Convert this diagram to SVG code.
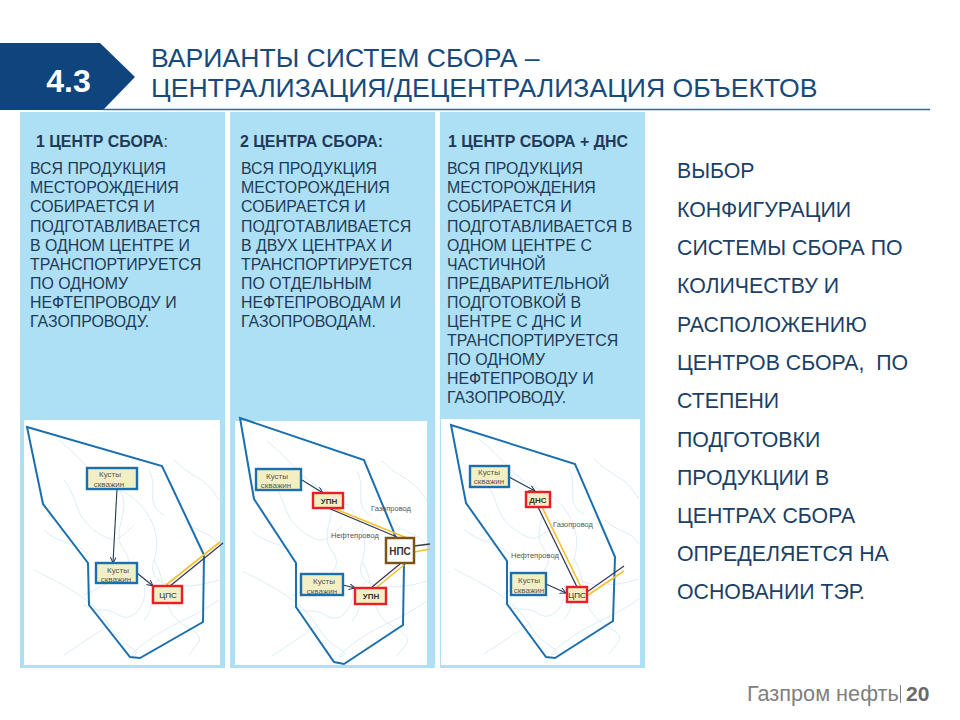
<svg xmlns="http://www.w3.org/2000/svg" width="960" height="720" viewBox="0 0 960 720">
<style>
text{font-family:"Liberation Sans",Arial,sans-serif}
.title{font-size:26.6px;fill:#174a7c}
.head{font-size:15.9px;font-weight:bold;fill:#1f3a57}
.body{font-size:15.9px;fill:#1f3a57}
.side{font-size:21.3px;fill:#1c3f66}
.panel{fill:#aee0f5}
.map{fill:#fff}
.field{fill:none;stroke:#1b6fae;stroke-width:2}
.river{fill:none;stroke:#dcEEf5;stroke-width:1}
.ks{fill:#f3efc4;stroke:#1b6fae;stroke-width:2.4}
.pr{fill:#f3efc4;stroke:#ee1c25;stroke-width:2.4}
.nps{fill:#fff;stroke:#7b5418;stroke-width:2.5}
.nt{font-size:8px;fill:#555;text-anchor:middle}
.nb{font-size:8px;font-weight:bold;fill:#333;text-anchor:middle}
.nc{font-size:8px;fill:#222;text-anchor:middle}
.lbl{font-size:7.5px;fill:#555}
.oil{fill:none;stroke:#3a3a55;stroke-width:1.3}
.gas{fill:none;stroke:#f5c02c;stroke-width:1.6}
.arr{fill:none;stroke:#1f3a57;stroke-width:1.1;marker-end:url(#a)}
</style>
<defs>
<marker id="a" markerWidth="8" markerHeight="8" refX="6" refY="3" orient="auto" markerUnits="userSpaceOnUse"><path d="M0 0L6 3L0 6" fill="none" stroke="#1f3a57" stroke-width="1"/></marker>
<clipPath id="c1"><rect x="24" y="420" width="196" height="245"/></clipPath>
<clipPath id="c2"><rect x="235" y="421" width="192" height="244"/></clipPath>
<clipPath id="c3"><rect x="441" y="419" width="199" height="246"/></clipPath>
<g id="rivers">
<path class="river" d="M35 20C60 40 70 60 95 70S140 110 130 140S165 170 195 160"/>
<path class="river" d="M10 150C40 165 70 180 85 205S120 230 110 235S120 220 150 205S180 190 195 180"/>
<path class="river" d="M95 70C110 90 85 110 100 130S90 160 60 175"/>
<path class="river" d="M130 140C145 165 135 190 160 205S175 220 165 235"/>
<path class="river" d="M150 40C170 60 180 55 195 80M160 100C175 115 185 110 195 125"/>
<path class="river" d="M85 205C70 215 55 225 40 235M120 200C135 185 120 170 135 160"/>
<path class="river" d="M40 60C55 80 50 95 70 110S95 120 110 105M20 110C35 125 50 120 65 135"/>
<path class="river" d="M125 50C135 70 120 85 140 95M60 185C75 195 80 185 95 195S125 180 120 165"/>
</g>
</defs>
<rect width="960" height="720" fill="#fff"/>

<g id="header">
<polygon points="0,43 100,43 135,77 103,110 0,110" fill="#0f457d"/>
<text x="68.500" y="92" font-size="32" font-weight="bold" fill="#fff" text-anchor="middle">4.3</text>
<line x1="103" y1="109.500" x2="930" y2="109.500" stroke="#2a6a9e" stroke-width="1.500"/>
<text class="title" x="151" y="67">ВАРИАНТЫ СИСТЕМ СБОРА –</text>
<text class="title" x="151" y="97">ЦЕНТРАЛИЗАЦИЯ/ДЕЦЕНТРАЛИЗАЦИЯ ОБЪЕКТОВ</text>
</g>

<g id="panel1">
<rect class="panel" x="20" y="112" width="205" height="556"/>
<text class="head" x="36" y="147">1 ЦЕНТР СБОРА<tspan font-weight="normal">:</tspan></text>
<text class="body" x="30" y="174">ВСЯ ПРОДУКЦИЯ</text>
<text class="body" x="30" y="193">МЕСТОРОЖДЕНИЯ</text>
<text class="body" x="30" y="212">СОБИРАЕТСЯ И</text>
<text class="body" x="30" y="232">ПОДГОТАВЛИВАЕТСЯ</text>
<text class="body" x="30" y="251">В ОДНОМ ЦЕНТРЕ И</text>
<text class="body" x="30" y="270">ТРАНСПОРТИРУЕТСЯ</text>
<text class="body" x="30" y="289">ПО ОДНОМУ</text>
<text class="body" x="30" y="308">НЕФТЕПРОВОДУ И</text>
<text class="body" x="30" y="327">ГАЗОПРОВОДУ.</text>
<rect class="map" x="24" y="420" width="196" height="245"/>
<g clip-path="url(#c1)"><use href="#rivers" x="24" y="420"/></g>
<polygon class="field" points="27,427 162,466 204,555 203,622 140,658 130,657 89,605 88,563 43,504"/>
</g>

<g id="panel2">
<rect class="panel" x="230" y="112" width="205" height="556"/>
<text class="head" x="240" y="147">2 ЦЕНТРА СБОРА:</text>
<text class="body" x="241" y="174">ВСЯ ПРОДУКЦИЯ</text>
<text class="body" x="241" y="193">МЕСТОРОЖДЕНИЯ</text>
<text class="body" x="241" y="212">СОБИРАЕТСЯ И</text>
<text class="body" x="241" y="232">ПОДГОТАВЛИВАЕТСЯ</text>
<text class="body" x="241" y="251">В ДВУХ ЦЕНТРАХ И</text>
<text class="body" x="241" y="270">ТРАНСПОРТИРУЕТСЯ</text>
<text class="body" x="241" y="289">ПО ОТДЕЛЬНЫМ</text>
<text class="body" x="241" y="308">НЕФТЕПРОВОДАМ И</text>
<text class="body" x="241" y="327">ГАЗОПРОВОДАМ.</text>
<rect class="map" x="235" y="421" width="192" height="244"/>
<g clip-path="url(#c2)"><use href="#rivers" x="232" y="421"/></g>
<polygon class="field" points="240,418 364,460 393,530 404,563 403,625 344,664 334,662 296,607 296,563 254,499"/>
</g>

<g id="panel3">
<rect class="panel" x="440" y="112" width="205" height="556"/>
<text class="head" x="448" y="147">1 ЦЕНТР СБОРА + ДНС</text>
<text class="body" x="447" y="174">ВСЯ ПРОДУКЦИЯ</text>
<text class="body" x="447" y="193">МЕСТОРОЖДЕНИЯ</text>
<text class="body" x="447" y="212">СОБИРАЕТСЯ И</text>
<text class="body" x="447" y="232">ПОДГОТАВЛИВАЕТСЯ В</text>
<text class="body" x="447" y="251">ОДНОМ ЦЕНТРЕ С</text>
<text class="body" x="447" y="270">ЧАСТИЧНОЙ</text>
<text class="body" x="447" y="289">ПРЕДВАРИТЕЛЬНОЙ</text>
<text class="body" x="447" y="308">ПОДГОТОВКОЙ В</text>
<text class="body" x="447" y="327">ЦЕНТРЕ С ДНС И</text>
<text class="body" x="447" y="346">ТРАНСПОРТИРУЕТСЯ</text>
<text class="body" x="447" y="365">ПО ОДНОМУ</text>
<text class="body" x="447" y="384">НЕФТЕПРОВОДУ И</text>
<text class="body" x="447" y="403">ГАЗОПРОВОДУ.</text>
<rect class="map" x="441" y="419" width="199" height="246"/>
<g clip-path="url(#c3)"><use href="#rivers" x="444" y="419"/></g>
<polygon class="field" points="451,425 575,464 615,557 613,621 555,658 546,657 507,604 507,561 466,503"/>
</g>

<g id="connectors">
<line class="arr" x1="117" y1="489" x2="113" y2="563"/>
<line class="arr" x1="137" y1="573" x2="153" y2="586"/>
<line class="gas" x1="166" y1="585" x2="220" y2="542"/>
<line class="oil" x1="170" y1="586" x2="223" y2="543"/>

<line class="arr" x1="302" y1="480" x2="323" y2="493"/>
<line class="arr" x1="343" y1="585" x2="355" y2="588"/>
<line class="oil" x1="328" y1="508" x2="397" y2="537"/>
<line class="gas" x1="333" y1="508" x2="407" y2="538"/>
<line class="oil" x1="372" y1="587" x2="400" y2="564"/>
<line class="gas" x1="377" y1="587" x2="404" y2="565"/>
<line class="oil" x1="414" y1="546" x2="430" y2="544"/>
<line class="gas" x1="414" y1="552" x2="430" y2="549"/>

<line class="arr" x1="509" y1="477" x2="535" y2="491"/>
<line class="arr" x1="546" y1="584" x2="566" y2="593"/>
<line class="oil" x1="538" y1="507" x2="577" y2="587"/>
<line class="gas" x1="542" y1="507" x2="581" y2="587"/>
<line class="oil" x1="587" y1="592" x2="624" y2="566"/>
<line class="gas" x1="588" y1="595" x2="624" y2="571"/>
</g>

<g id="m1-kusty1"><rect class="ks" x="87" y="468" width="50" height="21"/><text class="nt" x="110" y="477">Кусты</text><text class="nt" x="109" y="487">скважин</text></g>
<g id="m1-kusty2"><rect class="ks" x="96" y="563" width="41" height="20"/><text class="nt" x="118" y="573">Кусты</text><text class="nt" x="116" y="582">скважин</text></g>
<g id="m1-cps"><rect class="pr" x="153" y="586" width="29" height="17"/><text class="nc" x="168" y="598">ЦПС</text></g>

<g id="m2-kusty1"><rect class="ks" x="256" y="469" width="45" height="21"/><text class="nt" x="277" y="479">Кусты</text><text class="nt" x="276" y="488">скважин</text></g>
<g id="m2-upn1"><rect class="pr" x="313" y="493" width="30" height="15"/><text class="nb" x="329" y="504">УПН</text></g>
<g id="m2-kusty2"><rect class="ks" x="301" y="574" width="42" height="21"/><text class="nt" x="324" y="584">Кусты</text><text class="nt" x="322" y="594">скважин</text></g>
<g id="m2-upn2"><rect class="pr" x="355" y="588" width="31" height="16"/><text class="nb" x="371" y="599">УПН</text></g>
<g id="m2-nps"><rect class="nps" x="386" y="538" width="28" height="25"/><text class="nb" x="400" y="555" style="font-size:10px">НПС</text></g>

<g id="m3-kusty1"><rect class="ks" x="470" y="466" width="39" height="21"/><text class="nt" x="489" y="475">Кусты</text><text class="nt" x="489" y="484">скважин</text></g>
<g id="m3-dns"><rect class="pr" x="526" y="492" width="24" height="15"/><text class="nb" x="538" y="503">ДНС</text></g>
<g id="m3-kusty2"><rect class="ks" x="511" y="573" width="35" height="22"/><text class="nt" x="529" y="583">Кусты</text><text class="nt" x="529" y="593">скважин</text></g>
<g id="m3-cps"><rect class="pr" x="567" y="587" width="20" height="15"/><text class="nc" x="577" y="598">ЦПС</text></g>

<g id="pipe-labels">
<text class="lbl" x="371" y="511">Газопровод</text>
<text class="lbl" x="331" y="538">Нефтепровод</text>
<text class="lbl" x="553" y="527">Газопровод</text>
<text class="lbl" x="511" y="558">Нефтепровод</text>
</g>

<g id="side-text">
<text class="side" x="677" y="178">ВЫБОР</text>
<text class="side" x="677" y="217">КОНФИГУРАЦИИ</text>
<text class="side" x="677" y="255">СИСТЕМЫ СБОРА ПО</text>
<text class="side" x="677" y="293">КОЛИЧЕСТВУ И</text>
<text class="side" x="677" y="332">РАСПОЛОЖЕНИЮ</text>
<text class="side" x="677" y="370" xml:space="preserve">ЦЕНТРОВ СБОРА,  ПО</text>
<text class="side" x="677" y="408">СТЕПЕНИ</text>
<text class="side" x="677" y="447">ПОДГОТОВКИ</text>
<text class="side" x="677" y="485">ПРОДУКЦИИ В</text>
<text class="side" x="677" y="523">ЦЕНТРАХ СБОРА</text>
<text class="side" x="677" y="561">ОПРЕДЕЛЯЕТСЯ НА</text>
<text class="side" x="677" y="599">ОСНОВАНИИ ТЭР.</text>
</g>

<g id="footer">
<text x="747" y="701" font-size="21.7" fill="#7f7f7f">Газпром нефть</text>
<line x1="900.500" y1="685" x2="900.500" y2="703" stroke="#7f7f7f" stroke-width="1"/>
<text x="906" y="701" font-size="21" font-weight="bold" fill="#6a6a6a">20</text>
</g>
</svg>
